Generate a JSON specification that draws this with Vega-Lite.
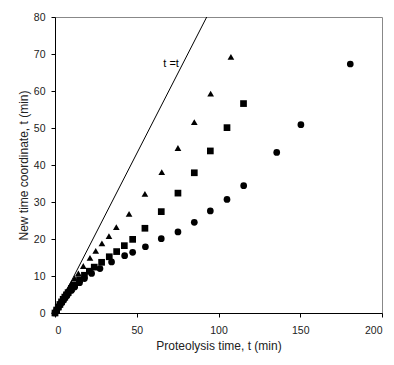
{
  "$schema": "https://vega.github.io/schema/vega-lite/v6.json",
  "autosize": "none",
  "width": 327,
  "height": 296,
  "padding": {"left": 55, "top": 17, "right": 12, "bottom": 52},
  "background": "white",
  "config": {
    "view": {"stroke": "#888", "strokeWidth": 1},
    "font": "Liberation Sans",
    "axis": {
      "labelFont": "Liberation Sans",
      "titleFont": "Liberation Sans",
      "labelFontSize": 10.5,
      "titleFontSize": 12,
      "titleFontWeight": "normal",
      "labelColor": "#222",
      "titleColor": "#222",
      "domainColor": "black",
      "tickColor": "black",
      "tickSize": 4,
      "grid": false
    }
  },
  "datasets": {
    "pts": [
      {"t": 0, "y": 0, "series": "A"},
      {"t": 1, "y": 0.9, "series": "A"},
      {"t": 2, "y": 1.7, "series": "A"},
      {"t": 3, "y": 2.6, "series": "A"},
      {"t": 4, "y": 3.4, "series": "A"},
      {"t": 5, "y": 4.2, "series": "A"},
      {"t": 6, "y": 5.0, "series": "A"},
      {"t": 7, "y": 5.8, "series": "A"},
      {"t": 8, "y": 6.5, "series": "A"},
      {"t": 10, "y": 8.0, "series": "A"},
      {"t": 12, "y": 9.4, "series": "A"},
      {"t": 14.3, "y": 10.7, "series": "A"},
      {"t": 17.3, "y": 12.7, "series": "A"},
      {"t": 21.4, "y": 14.9, "series": "A"},
      {"t": 24.9, "y": 16.8, "series": "A"},
      {"t": 28.7, "y": 18.8, "series": "A"},
      {"t": 33, "y": 20.8, "series": "A"},
      {"t": 37.5, "y": 23.2, "series": "A"},
      {"t": 45.3, "y": 26.8, "series": "A"},
      {"t": 55, "y": 32.2, "series": "A"},
      {"t": 65.3, "y": 38.1, "series": "A"},
      {"t": 75.2, "y": 44.6, "series": "A"},
      {"t": 85.2, "y": 51.6, "series": "A"},
      {"t": 95.2, "y": 59.3, "series": "A"},
      {"t": 107.6, "y": 69.2, "series": "A"},
      {"t": 0, "y": 0, "series": "B"},
      {"t": 1, "y": 0.8, "series": "B"},
      {"t": 2, "y": 1.6, "series": "B"},
      {"t": 3, "y": 2.3, "series": "B"},
      {"t": 4, "y": 3.0, "series": "B"},
      {"t": 5, "y": 3.7, "series": "B"},
      {"t": 6, "y": 4.3, "series": "B"},
      {"t": 7, "y": 4.9, "series": "B"},
      {"t": 8, "y": 5.5, "series": "B"},
      {"t": 10, "y": 6.6, "series": "B"},
      {"t": 12, "y": 7.6, "series": "B"},
      {"t": 15, "y": 9.0, "series": "B"},
      {"t": 18, "y": 10.2, "series": "B"},
      {"t": 21, "y": 11.3, "series": "B"},
      {"t": 24, "y": 12.4, "series": "B"},
      {"t": 28.5, "y": 13.7, "series": "B"},
      {"t": 33.2, "y": 15.2, "series": "B"},
      {"t": 37.7, "y": 16.6, "series": "B"},
      {"t": 42.4, "y": 18.2, "series": "B"},
      {"t": 47.5, "y": 19.9, "series": "B"},
      {"t": 55, "y": 22.9, "series": "B"},
      {"t": 65, "y": 27.4, "series": "B"},
      {"t": 75.2, "y": 32.4, "series": "B"},
      {"t": 85.2, "y": 37.9, "series": "B"},
      {"t": 95, "y": 43.8, "series": "B"},
      {"t": 105.2, "y": 50.1, "series": "B"},
      {"t": 115.3, "y": 56.6, "series": "B"},
      {"t": 0, "y": 0, "series": "C"},
      {"t": 1, "y": 0.8, "series": "C"},
      {"t": 2, "y": 1.5, "series": "C"},
      {"t": 3, "y": 2.2, "series": "C"},
      {"t": 4, "y": 2.8, "series": "C"},
      {"t": 5, "y": 3.4, "series": "C"},
      {"t": 6, "y": 4.0, "series": "C"},
      {"t": 7, "y": 4.6, "series": "C"},
      {"t": 8, "y": 5.2, "series": "C"},
      {"t": 10, "y": 6.1, "series": "C"},
      {"t": 12, "y": 7.0, "series": "C"},
      {"t": 15, "y": 8.2, "series": "C"},
      {"t": 18, "y": 9.3, "series": "C"},
      {"t": 22.4, "y": 10.7, "series": "C"},
      {"t": 27.5, "y": 12.0, "series": "C"},
      {"t": 34.6, "y": 13.8, "series": "C"},
      {"t": 42.6, "y": 15.5, "series": "C"},
      {"t": 47.5, "y": 16.4, "series": "C"},
      {"t": 55.3, "y": 17.9, "series": "C"},
      {"t": 65, "y": 20.1, "series": "C"},
      {"t": 75.2, "y": 21.9, "series": "C"},
      {"t": 85.2, "y": 24.5, "series": "C"},
      {"t": 95, "y": 27.6, "series": "C"},
      {"t": 105.2, "y": 30.7, "series": "C"},
      {"t": 115.4, "y": 34.4, "series": "C"},
      {"t": 135.6, "y": 43.4, "series": "C"},
      {"t": 150.4, "y": 50.9, "series": "C"},
      {"t": 180.6, "y": 67.3, "series": "C"}
    ],
    "ref": [
      {"t": 0, "y": 0},
      {"t": 92.8, "y": 80}
    ],
    "lab": [
      {"t": 71, "y": 67.4, "text": "t =t"}
    ]
  },
  "encoding": {
    "x": {"field": "t", "type": "quantitative", "scale": {"domain": [0, 200], "nice": false},
          "axis": {"title": "Proteolysis time, t (min)", "values": [0, 50, 100, 150, 200], "labelPadding": 8, "titlePadding": 5, "labelOverlap": false}},
    "y": {"field": "y", "type": "quantitative", "scale": {"domain": [0, 80], "nice": false},
          "axis": {"title": "New time coordinate, t  (min)", "values": [0, 10, 20, 30, 40, 50, 60, 70, 80], "labelPadding": 6, "titlePadding": 3, "labelOverlap": false}}
  },
  "layer": [
    {
      "data": {"name": "ref"},
      "mark": {"type": "line", "color": "black", "strokeWidth": 1, "clip": true}
    },
    {
      "data": {"name": "pts"},
      "mark": {"type": "point", "filled": true, "opacity": 1, "color": "black"},
      "encoding": {
        "shape": {"field": "series", "type": "nominal",
                  "scale": {"domain": ["A", "B", "C"], "range": ["triangle-up", "square", "circle"]},
                  "legend": null},
        "size": {"field": "series", "type": "nominal",
                 "scale": {"domain": ["A", "B", "C"], "range": [45, 45, 52]},
                 "legend": null}
      }
    },
    {
      "data": {"name": "lab"},
      "mark": {"type": "text", "fontSize": 11, "font": "Liberation Sans", "color": "black", "align": "center", "baseline": "middle"},
      "encoding": {
        "text": {"field": "text"}
      }
    }
  ]
}
